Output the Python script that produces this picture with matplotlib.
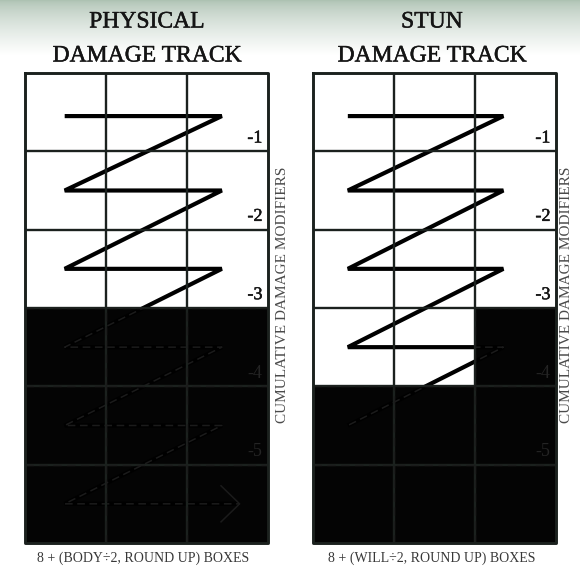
import numpy as np
import matplotlib.pyplot as plt
import matplotlib.patheffects as pe
from matplotlib.patches import Polygon

# --- chart content ---
track_titles = [("PHYSICAL", "DAMAGE TRACK"), ("STUN", "DAMAGE TRACK")]
track_captions = ["8 + (BODY÷2, ROUND UP) BOXES", "8 + (WILL÷2, ROUND UP) BOXES"]
side_label = "CUMULATIVE DAMAGE MODIFIERS"
n_cols = 3
n_rows = 6
open_boxes = [9, 11]            # white boxes; the rest of the track is blacked out
modifiers = ["-1", "-2", "-3", "-4", "-5"]

# zigzag "fill order" path, in box units (column, row)
zig_x = [
    [0.49, 2.43, 0.49, 2.43, 0.49, 2.43, 0.49, 2.43, 0.49, 2.43, 0.49, 2.65],
    [0.43, 2.35, 0.43, 2.35, 0.43, 2.35, 0.43, 2.35, 0.43],
]
zig_y = [
    [0.55, 0.55, 1.5, 1.5, 2.5, 2.5, 3.5, 3.5, 4.5, 4.5, 5.5, 5.5],
    [0.55, 0.55, 1.5, 1.5, 2.5, 2.5, 3.5, 3.5, 4.5],
]
# open arrow head at the end of the physical path
arrow_x = [2.42, 2.65, 2.42]
arrow_y = [5.27, 5.5, 5.73]

W, H = 580, 575
fig = plt.figure(figsize=(W / 100, H / 100), dpi=100)

# faint greenish band fading to white at the top
bg = fig.add_axes([0, 0, 1, 1])
bg.set_xlim(0, 1)
bg.set_ylim(0, 1)
bg.axis("off")
grad = np.linspace(0, 1, 64)[:, None, None]
top = np.array([0.68, 0.76, 0.70])
band = top + (1 - top) * grad ** 0.7
bg.imshow(band, extent=[0, 1, 1 - 55 / H, 1], aspect="auto", zorder=0)

serif = ["Liberation Serif", "DejaVu Serif"]
grid_col = "#1b211e"
faint = "#1b1b1b"
thick = [pe.withStroke(linewidth=0.35, foreground="#151515")]

lefts = [25, 313]
title_x = [147, 432]
side_x = [283, 567]
cap_x = [143, 432]
grid_top, grid_bot, grid_w = 73, 543, 243

for i in range(2):
    ax = fig.add_axes([lefts[i] / W, 1 - grid_bot / H, grid_w / W, (grid_bot - grid_top) / H])
    ax.set_xlim(0, n_cols)
    ax.set_ylim(n_rows, 0)
    ax.axis("off")

    # blacked-out region
    r, c = divmod(open_boxes[i], n_cols)
    if c == 0:
        pts = [(0, r), (n_cols, r), (n_cols, n_rows), (0, n_rows)]
    else:
        pts = [(c, r), (n_cols, r), (n_cols, n_rows), (0, n_rows), (0, r + 1), (c, r + 1)]
    dark = Polygon(pts, closed=True, facecolor="#040404", edgecolor="none", zorder=1)
    ax.add_patch(dark)

    # damage path
    ax.plot(zig_x[i], zig_y[i], color="black", lw=3.0, solid_joinstyle="miter",
            solid_capstyle="butt", zorder=3)
    ghost = ax.plot(zig_x[i], zig_y[i], color=faint, lw=1.1, ls=(0, (5, 3)), zorder=4)[0]
    ghost.set_clip_path(dark)
    if i == 0:
        head = ax.plot(arrow_x, arrow_y, color=faint, lw=1.1, zorder=4)[0]
        head.set_clip_path(dark)

    # box grid
    for k in range(1, n_cols):
        ax.axvline(k, color=grid_col, lw=1.7, zorder=5)
        g = ax.axvline(k, color=faint, lw=1.0, ls=(0, (6, 4)), zorder=6)
        g.set_clip_path(dark)
    for k in range(1, n_rows):
        ax.axhline(k, color=grid_col, lw=1.7, zorder=5)
        g = ax.axhline(k, color=faint, lw=1.0, ls=(0, (6, 4)), zorder=6)
        g.set_clip_path(dark)
    ax.plot([0, n_cols, n_cols, 0, 0], [0, 0, n_rows, n_rows, 0], color=grid_col,
            lw=2.1, clip_on=False, zorder=7)

    # modifiers, one per row of three boxes
    for row, m in enumerate(modifiers):
        hidden = row * n_cols + n_cols - 1 >= open_boxes[i]
        ax.text(2.93, row + 0.83, m, ha="right", va="center", fontsize=13,
                family=serif, color="#242424" if hidden else "#151515",
                path_effects=None if hidden else thick, zorder=8)

    fig.text(title_x[i] / W, 1 - 22 / H, track_titles[i][0], ha="center", va="center",
             fontsize=17, family=serif, color="#151515", path_effects=thick)
    fig.text(title_x[i] / W, 1 - 56 / H, track_titles[i][1], ha="center", va="center",
             fontsize=17, family=serif, color="#151515", path_effects=thick)
    fig.text(side_x[i] / W, 1 - 295 / H, side_label, rotation=90, ha="center",
             va="center", fontsize=11, family=serif, color="#4a4a4a")
    fig.text(cap_x[i] / W, 1 - 558 / H, track_captions[i], ha="center", va="center",
             fontsize=10, family=serif, color="#383838")

fig.savefig("out.png", dpi=100)
